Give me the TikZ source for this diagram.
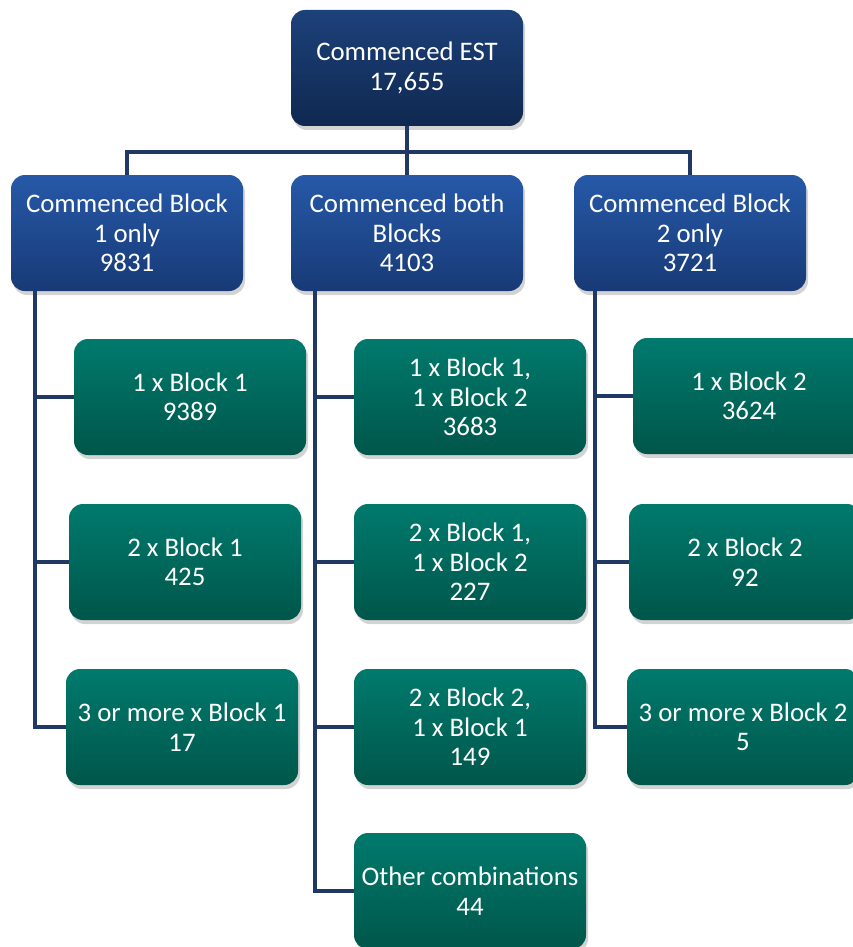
\documentclass[tikz,border=0pt]{standalone}
\usepackage{fontspec}
\setmainfont{Carlito}
\usetikzlibrary{shadows}

\definecolor{rootTop}{HTML}{1D417A}
\definecolor{rootBot}{HTML}{0F2850}
\definecolor{blueTop}{HTML}{2659A8}
\definecolor{blueBot}{HTML}{183A76}
\definecolor{greenTop}{HTML}{007A6D}
\definecolor{greenBot}{HTML}{00564A}
\definecolor{navy}{HTML}{1F3864}

\begin{document}
\begin{tikzpicture}[x=1pt, y=-1pt,
	box/.style={rounded corners=14pt, minimum width=232pt, minimum height=116pt,
		text=white, align=center, font=\fontsize{26.8}{29.5}\selectfont, inner sep=2pt,
		drop shadow={shadow xshift=2pt, shadow yshift=-4pt, opacity=0.35}},
	top/.style={box, top color=rootTop, bottom color=rootBot},
	mid/.style={box, top color=blueTop, bottom color=blueBot},
	leaf/.style={box, top color=greenTop, bottom color=greenBot},
	link/.style={draw=navy, line width=3.5pt}]
	\useasboundingbox (0,0) rectangle (853,947);
	\clip (0,0) rectangle (853,947);

	%Toppen
	\node[top] (est) at (407,68) {Commenced EST\\17,655};

	%Andre nivå
	\node[mid] (b1) at (127,233) {Commenced Block\\1 only\\9831};
	\node[mid] (both) at (407,233) {Commenced both\\Blocks\\4103};
	\node[mid] (b2) at (690,233) {Commenced Block\\2 only\\3721};

	%Bladene
	\node[leaf] (b1x1) at (190,397) {1 x Block 1\\9389};
	\node[leaf] (b1x2) at (185,562) {2 x Block 1\\425};
	\node[leaf] (b1x3) at (182,727) {3 or more x Block 1\\17};

	\node[leaf] (c11) at (470,397) {1 x Block 1,\\1 x Block 2\\3683};
	\node[leaf] (c21) at (470,562) {2 x Block 1,\\1 x Block 2\\227};
	\node[leaf] (c12) at (470,727) {2 x Block 2,\\1 x Block 1\\149};
	\node[leaf] (other) at (470,891) {Other combinations\\44};

	\node[leaf] (b2x1) at (749,396) {1 x Block 2\\3624};
	\node[leaf] (b2x2) at (745,562) {2 x Block 2\\92};
	\node[leaf] (b2x3) at (743,727) {3 or more x Block 2\\5};

	%Kantene
	\coordinate (bus) at (407,152);
	\coordinate (s1) at (35,291);
	\coordinate (s2) at (315,291);
	\coordinate (s3) at (595,291);

	\begin{scope}[on background layer/.try]
	\draw[link] (est.south) -- (bus);
	\draw[link] (b1.north) |- (bus) -| (b2.north);
	\draw[link] (bus) -- (both.north);

	\draw[link] (s1) |- (b1x3.west);
	\draw[link] (s1 |- b1x1.west) -- (b1x1.west);
	\draw[link] (s1 |- b1x2.west) -- (b1x2.west);

	\draw[link] (s2) |- (other.west);
	\draw[link] (s2 |- c11.west) -- (c11.west);
	\draw[link] (s2 |- c21.west) -- (c21.west);
	\draw[link] (s2 |- c12.west) -- (c12.west);

	\draw[link] (s3) |- (b2x3.west);
	\draw[link] (s3 |- b2x1.west) -- (b2x1.west);
	\draw[link] (s3 |- b2x2.west) -- (b2x2.west);
	\end{scope}
\end{tikzpicture}
\end{document}
